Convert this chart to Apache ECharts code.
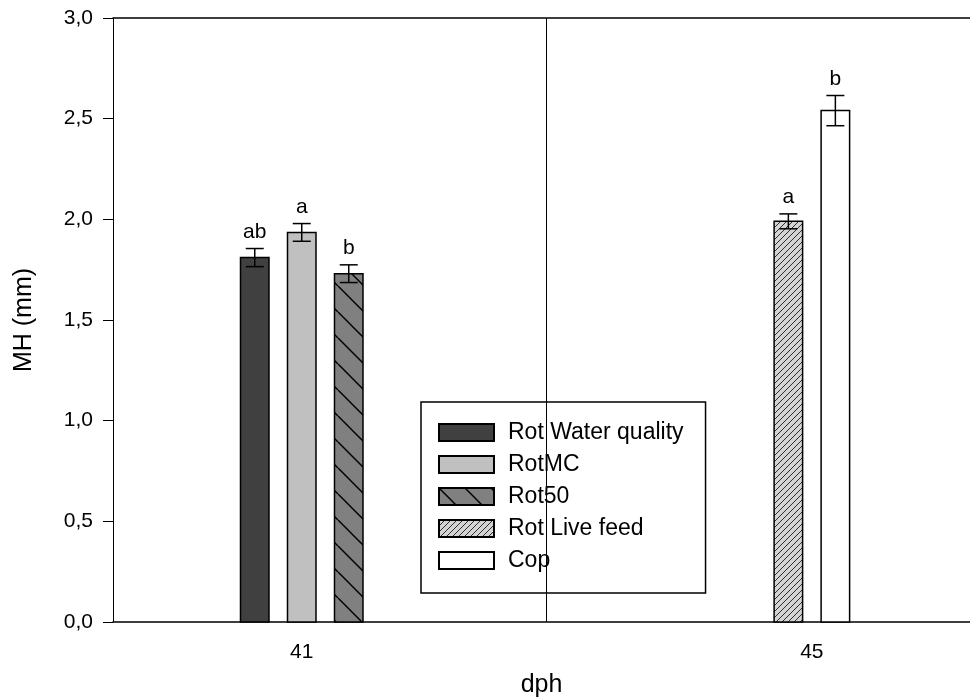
<!DOCTYPE html>
<html>
<head>
<meta charset="utf-8">
<script src="https://cdn.jsdelivr.net/npm/echarts@6/dist/echarts.min.js"></script>
<style>
  html, body { margin: 0; padding: 0; background: #fff; }
  #main { width: 970px; height: 700px; }
</style>
</head>
<body>
<div id="main"></div>
<script>
// data
var days = [41, 45];
var seriesNames = ['Rot Water quality', 'RotMC', 'Rot50', 'Rot Live feed', 'Cop'];
var seriesDay = [41, 41, 41, 45, 45];
var means = [1.81, 1.935, 1.73, 1.99, 2.54];
var errors = [0.045, 0.044, 0.044, 0.037, 0.075];
var letters = ['ab', 'a', 'b', 'a', 'b'];

var FONT = 'Liberation Sans, Arial, sans-serif';
var BAR_W = 28.5;   // px
var SLOT = 47;      // px between bars in a group
var CAP = 18;       // px error cap width

// hatch patterns
function makePattern(size, bg, lineColor, lineWidth, back) {
    var c = document.createElement('canvas');
    c.width = size; c.height = size;
    var ctx = c.getContext('2d');
    ctx.fillStyle = bg;
    ctx.fillRect(0, 0, size, size);
    ctx.strokeStyle = lineColor;
    ctx.lineWidth = lineWidth;
    for (var k = -1; k <= 1; k++) {
        ctx.beginPath();
        if (back) { ctx.moveTo(k * size, 0); ctx.lineTo(k * size + size, size); }
        else { ctx.moveTo(k * size, size); ctx.lineTo(k * size + size, 0); }
        ctx.stroke();
    }
    return { image: c, repeat: 'repeat' };
}

var fills = [
    '#404040',
    '#c0c0c0',
    makePattern(26, '#808080', '#000', 1.5, true),
    makePattern(6, '#d4d4d4', '#303030', 1, false),
    '#ffffff'
];

// offset of each bar inside its day group
var slotOffset = seriesDay.map(function (d, i) {
    var grp = [];
    seriesDay.forEach(function (dd, j) { if (dd === d) grp.push(j); });
    return (grp.indexOf(i) - (grp.length - 1) / 2) * SLOT;
});

function renderItem(params, api) {
    var i = params.seriesIndex;
    var x = api.value(0), y = api.value(1), e = api.value(2);
    var base = api.coord([x, 0]);
    var top = api.coord([x, y]);
    var hi = api.coord([x, y + e])[1];
    var lo = api.coord([x, y - e])[1];
    var cx = base[0] + slotOffset[i];
    var lineStyle = { stroke: '#000', lineWidth: 1.5 };
    return {
        type: 'group',
        children: [
            { type: 'rect', shape: { x: cx - BAR_W / 2, y: top[1], width: BAR_W, height: base[1] - top[1] },
              style: { fill: fills[i], stroke: '#000', lineWidth: 1.5 } },
            { type: 'line', shape: { x1: cx, y1: hi, x2: cx, y2: lo }, style: lineStyle },
            { type: 'line', shape: { x1: cx - CAP / 2, y1: hi, x2: cx + CAP / 2, y2: hi }, style: lineStyle },
            { type: 'line', shape: { x1: cx - CAP / 2, y1: lo, x2: cx + CAP / 2, y2: lo }, style: lineStyle },
            { type: 'text', style: { text: letters[i], x: cx, y: hi - 6, align: 'center', verticalAlign: 'bottom',
              fontSize: 21, fontFamily: FONT, fill: '#000' } }
        ]
    };
}

var series = seriesNames.map(function (name, i) {
    var s = {
        name: name,
        type: 'custom',
        renderItem: renderItem,
        itemStyle: { color: fills[i], borderColor: '#000', borderWidth: 1.5 },
        data: [[seriesDay[i], means[i], errors[i], letters[i]]],
        z: 3
    };
    if (i === 0) {
        s.markLine = {
            silent: true,
            symbol: 'none',
            label: { show: false },
            lineStyle: { color: '#000', width: 1, type: 'solid' },
            data: [{ xAxis: 42.92 }]
        };
    }
    return s;
});

var chart = echarts.init(document.getElementById('main'));
var option = {
    animation: false,
    backgroundColor: '#fff',
    textStyle: { fontFamily: FONT },
    grid: { left: 113, right: 0, top: 18, bottom: 78, outerBoundsMode: 'none', containLabel: false },
    legend: {
        orient: 'vertical',
        left: 421,
        top: 402,
        icon: 'rect',
        itemWidth: 55,
        itemHeight: 17,
        itemGap: 9,
        padding: [19, 22, 21, 17],
        backgroundColor: '#fff',
        borderColor: '#000',
        borderWidth: 1.5,
        borderRadius: 0,
        selectedMode: false,
        textStyle: { fontSize: 23, color: '#000', fontFamily: FONT, padding: [0, 0, 0, 9] },
        data: seriesNames
    },
    xAxis: [{
        type: 'value',
        min: 39.52,
        max: 46.24,
        name: 'dph',
        nameLocation: 'middle',
        nameGap: 51,
        nameTextStyle: { fontSize: 25, color: '#000', fontFamily: FONT },
        axisLine: { show: true, lineStyle: { color: '#000', width: 1.5 } },
        axisTick: { show: false },
        splitLine: { show: false },
        axisLabel: { customValues: days, margin: 20, fontSize: 21, color: '#000', fontFamily: FONT }
    }, {
        type: 'value',
        position: 'top',
        min: 39.52,
        max: 46.24,
        axisLine: { show: true, lineStyle: { color: '#000', width: 1.5 } },
        axisTick: { show: false },
        axisLabel: { show: false },
        splitLine: { show: false }
    }],
    yAxis: {
        type: 'value',
        min: 0,
        max: 3,
        interval: 0.5,
        name: 'MH (mm)',
        nameLocation: 'middle',
        nameGap: 76,
        nameTextStyle: { fontSize: 25, color: '#000', fontFamily: FONT },
        axisLine: { show: true, lineStyle: { color: '#000', width: 1 } },
        axisTick: { show: true, inside: false, length: 10, lineStyle: { color: '#000', width: 1 } },
        splitLine: { show: false },
        axisLabel: {
            margin: 20,
            fontSize: 21,
            color: '#000',
            fontFamily: FONT,
            formatter: function (v) { return v.toFixed(1).replace('.', ','); }
        }
    },
    series: series
};
chart.setOption(option);
</script>
</body>
</html>
